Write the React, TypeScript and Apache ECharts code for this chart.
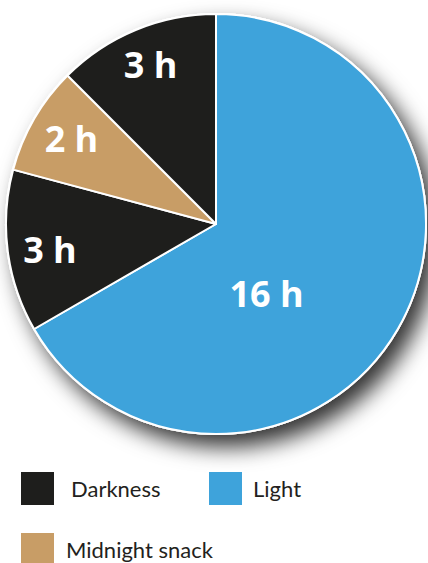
import React, { useEffect, useRef } from "react";
import * as echarts from "echarts";

const sliceNames = ["Light", "Darkness", "Midnight snack", "Darkness"];
const sliceHours = [16, 3, 2, 3];
const sliceColors = ["#3ea3db", "#1e1e1c", "#c89d66", "#1e1e1c"];
const labelOffsets = [
  [-43, 15],
  [-59, 11],
  [-51, -32],
  [-24, -60],
];
const legendNames = ["Darkness", "Light", "Midnight snack"];

export default function App() {
  const ref = useRef<HTMLDivElement>(null);
  useEffect(() => {
    if (!ref.current) return;
    const chart = echarts.init(ref.current, undefined, { renderer: "svg" });
    const legendPos = [
      { left: 19, top: 470, pad: [3, 0, 0, 11] },
      { left: 207, top: 470, pad: [1, 0, 0, 5] },
      { left: 19, top: 531, pad: [0, 0, 0, 6] },
    ];
    chart.setOption({
      animation: false,
      backgroundColor: "#ffffff",
      legend: legendNames.map((n, i) => ({
        data: [n],
        left: legendPos[i].left,
        top: legendPos[i].top,
        padding: 0,
        itemWidth: 35,
        itemHeight: 35,
        icon: "rect",
        selectedMode: false,
        textStyle: {
          fontFamily: "Lato",
          fontSize: 22,
          color: "#231f20",
          padding: legendPos[i].pad,
        },
      })),
      series: [
        {
          type: "pie",
          silent: true,
          center: [216, 224],
          radius: 210,
          label: { show: false },
          labelLine: { show: false },
          data: [{ value: 1, name: "_shadow" }],
          itemStyle: {
            color: "#ffffff",
            borderColor: "#ffffff",
            borderWidth: 2,
            shadowBlur: 22,
            shadowOffsetX: 10,
            shadowOffsetY: 12,
            shadowColor: "rgba(0,0,0,0.8)",
          },
        },
        {
          type: "pie",
          center: [216, 224],
          radius: 210,
          startAngle: 90,
          clockwise: true,
          labelLine: { show: false },
          label: {
            show: true,
            position: "inside",
            formatter: "{c} h",
            color: "#ffffff",
            fontFamily: "Open Sans",
            fontWeight: "bold",
            fontSize: 36,
          },
          itemStyle: { borderColor: "#ffffff", borderWidth: 2 },
          emphasis: { disabled: true },
          data: sliceNames.map((n, i) => ({
            name: n,
            value: sliceHours[i],
            itemStyle: { color: sliceColors[i] },
            label: { offset: labelOffsets[i] },
          })),
        },
      ],
    });
    return () => chart.dispose();
  }, []);
  return (
    <div
      ref={ref}
      style={{ position: "fixed", left: 0, top: 0, width: 428, height: 563 }}
    />
  );
}
